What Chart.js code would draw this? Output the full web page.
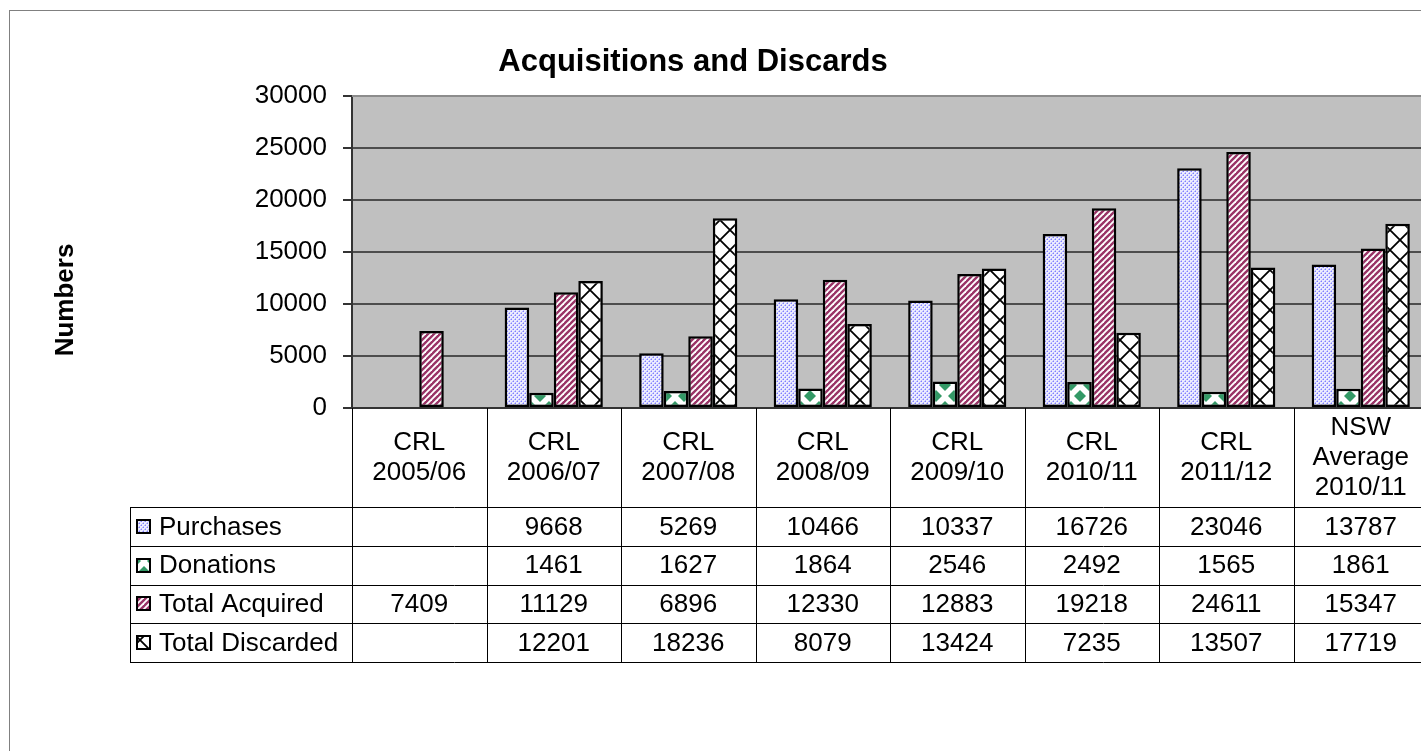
<!DOCTYPE html>
<html>
<head>
<meta charset="utf-8">
<script src="https://cdn.jsdelivr.net/npm/chart.js@4"></script>
<style>
  html, body { margin: 0; padding: 0; background: #fff; overflow: hidden; }
  canvas { display: block; }
</style>
</head>
<body>
<canvas id="acqChart" width="1440" height="751"></canvas>
<script>
const categories = [
  ['CRL', '2005/06'],
  ['CRL', '2006/07'],
  ['CRL', '2007/08'],
  ['CRL', '2008/09'],
  ['CRL', '2009/10'],
  ['CRL', '2010/11'],
  ['CRL', '2011/12'],
  ['NSW', 'Average', '2010/11']
];
const purchases = [null, 9668, 5269, 10466, 10337, 16726, 23046, 13787];
const donations = [null, 1461, 1627, 1864, 2546, 2492, 1565, 1861];
const totalAcquired = [7409, 11129, 6896, 12330, 12883, 19218, 24611, 15347];
const totalDiscarded = [null, 12201, 18236, 8079, 13424, 7235, 13507, 17719];
const seriesNames = ['Purchases', 'Donations', 'Total Acquired', 'Total Discarded'];
const yTicks = [0, 5000, 10000, 15000, 20000, 25000, 30000];

const FONT = "'Liberation Sans', Arial, sans-serif";
const canvas = document.getElementById('acqChart');
const mainCtx = canvas.getContext('2d');

function makePattern(w, h, draw) {
  const c = document.createElement('canvas');
  c.width = w;
  c.height = h;
  const g = c.getContext('2d');
  draw(g, w, h);
  return mainCtx.createPattern(c, 'repeat');
}

// light blue dots
const dotPattern = makePattern(4, 4, (g) => {
  g.fillStyle = '#ececff';
  g.fillRect(0, 0, 4, 4);
  g.fillStyle = '#8080ff';
  g.fillRect(1, 1, 1, 1);
  g.fillRect(3, 3, 1, 1);
  g.fillStyle = '#b8b8ff';
  g.fillRect(1, 0, 1, 1);
  g.fillRect(3, 2, 1, 1);
  g.fillRect(0, 1, 1, 1);
  g.fillRect(2, 3, 1, 1);
});

// green diamonds on white
const diamondPattern = makePattern(18, 22, (g, w, h) => {
  g.fillStyle = '#ffffff';
  g.fillRect(0, 0, w, h);
  g.fillStyle = '#339966';
  const pts = [[0, 0], [w, 0], [0, h], [w, h], [w / 2, h / 2]];
  pts.forEach(([cx, cy]) => {
    g.beginPath();
    g.moveTo(cx, cy - 6);
    g.lineTo(cx + 6, cy);
    g.lineTo(cx, cy + 6);
    g.lineTo(cx - 6, cy);
    g.closePath();
    g.fill();
  });
});

// maroon diagonal stripes
const stripePattern = makePattern(6, 6, (g) => {
  g.fillStyle = '#ffffff';
  g.fillRect(0, 0, 6, 6);
  g.strokeStyle = '#993366';
  g.lineWidth = 2.4;
  [0, 6, 12].forEach((c) => {
    g.beginPath();
    g.moveTo(c + 1, -1);
    g.lineTo(c - 7, 7);
    g.stroke();
  });
});

// black lattice
const latticePattern = makePattern(20, 20, (g) => {
  g.fillStyle = '#ffffff';
  g.fillRect(0, 0, 20, 20);
  g.strokeStyle = '#000000';
  g.lineWidth = 1.8;
  g.beginPath();
  g.moveTo(0, 0); g.lineTo(20, 20);
  g.moveTo(20, 0); g.lineTo(0, 20);
  g.stroke();
});

const fills = [dotPattern, diamondPattern, stripePattern, latticePattern];
const seriesData = [purchases, donations, totalAcquired, totalDiscarded];

const tablePlugin = {
  id: 'dataTable',
  beforeDraw(chart) {
    const { ctx, chartArea: a } = chart;
    ctx.save();
    ctx.fillStyle = '#c0c0c0';
    ctx.fillRect(a.left, a.top, a.right - a.left, a.bottom - a.top);
    ctx.restore();
  },
  afterDraw(chart) {
    const { ctx, chartArea: a } = chart;
    const xs = chart.scales.x;
    const catW = (a.right - a.left) / categories.length;
    const headH = 99;
    const rowH = 38.75;
    const tableLeft = 130;
    const rowTop = a.bottom + headH;
    const tableBottom = rowTop + rowH * seriesNames.length;

    ctx.save();

    // outer chart border
    ctx.strokeStyle = '#808080';
    ctx.lineWidth = 1;
    ctx.strokeRect(9.5, 10.5, 1600, 1000);

    // plot top border
    ctx.strokeStyle = '#8c8c8c';
    ctx.lineWidth = 2;
    ctx.beginPath();
    ctx.moveTo(a.left, a.top);
    ctx.lineTo(a.right, a.top);
    ctx.stroke();

    // title
    ctx.fillStyle = '#000';
    ctx.font = 'bold 31px ' + FONT;
    ctx.textAlign = 'center';
    ctx.textBaseline = 'alphabetic';
    ctx.fillText('Acquisitions and Discards', 693, 71);

    // y axis title
    ctx.save();
    ctx.translate(66, 300);
    ctx.rotate(-Math.PI / 2);
    ctx.font = 'bold 26px ' + FONT;
    ctx.textBaseline = 'middle';
    ctx.fillText('Numbers', 0, 0);
    ctx.restore();

    // table grid
    ctx.strokeStyle = '#000';
    ctx.lineWidth = 1;
    ctx.beginPath();
    for (let i = 0; i <= categories.length; i++) {
      const px = Math.round(xs.getPixelForValue(0) - catW / 2 + i * catW) + 0.5;
      ctx.moveTo(px, a.bottom);
      ctx.lineTo(px, tableBottom);
    }
    ctx.moveTo(tableLeft + 0.5, rowTop);
    ctx.lineTo(tableLeft + 0.5, tableBottom);
    for (let r = 0; r <= seriesNames.length; r++) {
      const py = Math.round(rowTop + r * rowH) + 0.5;
      ctx.moveTo(tableLeft, py);
      ctx.lineTo(a.right, py);
    }
    ctx.stroke();

    ctx.font = '26px ' + FONT;
    ctx.textBaseline = 'middle';
    ctx.textAlign = 'center';

    // category header
    categories.forEach((lines, i) => {
      const cx = xs.getPixelForValue(i);
      const cy = a.bottom + headH / 2;
      lines.forEach((line, k) => {
        ctx.fillText(line, cx, cy + (k - (lines.length - 1) / 2) * 30);
      });
    });

    // rows
    seriesNames.forEach((name, r) => {
      const cy = rowTop + r * rowH + rowH / 2;
      ctx.fillStyle = fills[r];
      ctx.fillRect(137, Math.round(cy - 6.5), 13, 13);
      ctx.strokeStyle = '#000';
      ctx.lineWidth = 2;
      ctx.strokeRect(137, Math.round(cy - 6.5), 13, 13);
      ctx.fillStyle = '#000';
      ctx.textAlign = 'left';
      ctx.fillText(name, 159, cy + 1);
      ctx.textAlign = 'center';
      seriesData[r].forEach((v, i) => {
        if (v !== null) ctx.fillText(String(v), xs.getPixelForValue(i), cy + 1);
      });
    });

    ctx.restore();
  }
};

new Chart(mainCtx, {
  type: 'bar',
  data: {
    labels: categories.map((c) => c.join(' ')),
    datasets: seriesNames.map((name, i) => ({
      label: name,
      data: seriesData[i],
      backgroundColor: fills[i],
      borderColor: '#000000',
      borderWidth: 2.5,
      borderSkipped: false,
      categoryPercentage: 0.73,
      barPercentage: 1.0,
    })),
  },
  options: {
    responsive: false,
    animation: false,
    layout: { padding: { left: 0, top: 96, right: 12, bottom: 0 } },
    plugins: {
      legend: { display: false },
      tooltip: { enabled: false },
      title: { display: false },
    },
    scales: {
      x: {
        ticks: { display: false },
        grid: { display: false },
        border: { display: true, color: '#333333', width: 2 },
        afterFit(scale) { scale.height = 343; },
      },
      y: {
        min: 0,
        max: 30000,
        afterBuildTicks(scale) { scale.ticks = yTicks.map((v) => ({ value: v })); },
        afterFit(scale) { scale.width = 352; },
        ticks: {
          color: '#000',
          padding: 16,
          font: { family: FONT, size: 26 },
          callback: (v) => String(v),
        },
        grid: {
          color: (c) => (c.tick && c.tick.value === 30000 ? '#8c8c8c' : '#4d4d4d'),
          lineWidth: 2,
          tickLength: 9,
          tickColor: '#333333',
        },
        border: { display: true, color: '#333333', width: 2 },
      },
    },
  },
  plugins: [tablePlugin],
});
</script>
</body>
</html>
